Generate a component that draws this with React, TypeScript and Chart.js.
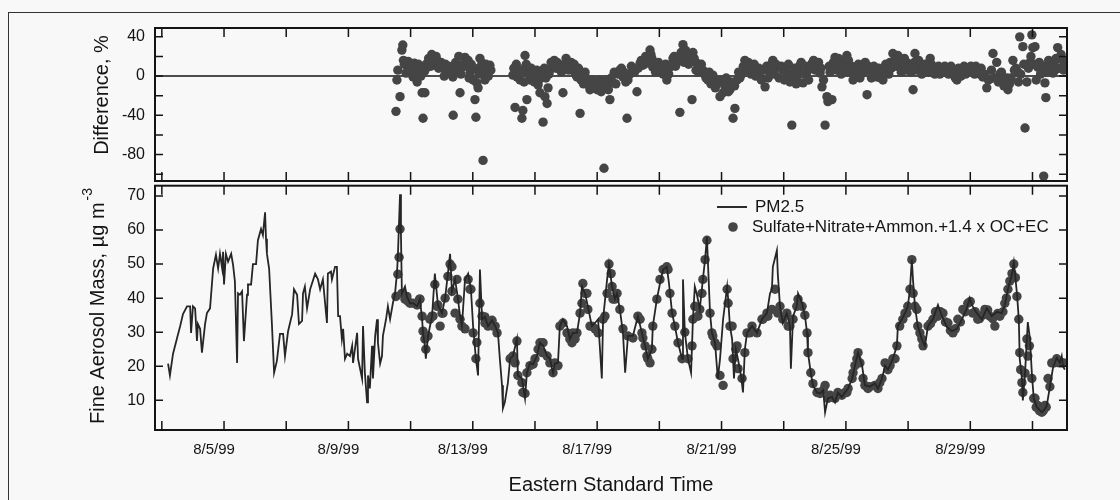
import React, { useEffect, useRef } from 'react';
import { Chart, registerables } from 'chart.js';

Chart.register(...registerables);

const FONT = "'Liberation Sans', Arial, Helvetica, sans-serif";
const INK = '#141414';
const MARK = '#454545';

// x axis: day of August 1999 (fractional)
const xTickDays = [3, 5, 7, 9, 11, 13, 15, 17, 19, 21, 23, 25, 27, 29, 31];
const xLabelDays = [5, 9, 13, 17, 21, 25, 29];
const diffTicks = [-100, -80, -60, -40, -20, 0, 20, 40];
const diffLabels = [-80, -40, 0, 40];
const massTicks = [10, 20, 30, 40, 50, 60, 70];

const xTitle = 'Eastern Standard Time';
const diffTitle = 'Difference, %';
const massTitle = 'Fine Aerosol Mass, µg m';
const massTitleSup = '-3';
const seriesNames = ['PM2.5', 'Sulfate+Nitrate+Ammon.+1.4 x OC+EC'];

// [day, µg/m3]
const pm25Series: [number, number][] = [
  [3.20,20.8],[3.26,17.3],[3.36,23.7],[3.49,28.3],[3.59,31.8],[3.68,35.3],[3.81,37.6],[3.91,37.6],[3.94,29.8],[4.00,37.6],
  [4.07,37.0],[4.13,27.4],[4.16,32.4],[4.23,31.0],[4.29,24.0],[4.39,32.4],[4.45,35.6],[4.55,37.0],[4.61,44.0],[4.65,48.7],
  [4.74,52.7],[4.81,48.7],[4.87,53.0],[4.94,48.7],[4.97,53.6],[5.00,44.0],[5.06,53.0],[5.13,50.7],[5.23,53.0],[5.29,49.8],
  [5.35,44.9],[5.42,21.0],[5.45,41.4],[5.51,41.0],[5.58,42.0],[5.64,27.4],[5.74,41.0],[5.77,44.0],[5.87,44.0],[5.93,50.0],
  [6.03,50.0],[6.09,57.0],[6.19,60.3],[6.25,58.5],[6.32,65.2],[6.35,57.4],[6.38,53.0],[6.45,48.7],[6.54,32.4],[6.61,18.1],
  [6.70,21.6],[6.80,29.5],[6.90,29.5],[6.96,23.0],[7.06,30.3],[7.19,35.3],[7.25,42.6],[7.35,41.0],[7.41,32.4],[7.51,33.3],
  [7.54,41.4],[7.60,43.4],[7.67,37.0],[7.77,42.6],[7.93,47.2],[8.02,45.5],[8.09,42.6],[8.18,45.5],[8.25,38.5],[8.31,32.7],
  [8.34,47.2],[8.44,47.8],[8.47,45.5],[8.57,49.2],[8.63,49.2],[8.67,34.7],[8.73,34.7],[8.79,28.0],[8.83,31.0],[8.89,22.2],
  [8.96,23.7],[9.05,23.0],[9.12,26.0],[9.15,21.0],[9.28,29.8],[9.31,22.2],[9.44,16.4],[9.47,31.8],[9.53,18.1],[9.60,9.4],
  [9.63,17.3],[9.69,13.5],[9.76,26.0],[9.79,16.4],[9.86,28.9],[9.92,33.8],[9.95,26.9],[10.02,20.8],[10.08,23.0],[10.11,28.9],
  [10.21,33.8],[10.27,37.6],[10.34,33.8],[10.43,38.5],[10.50,41.4],[10.56,47.2],[10.59,52.0],[10.66,70.5],[10.69,58.8],[10.72,41.4],
  [10.82,43.4],[10.88,40.5],[10.98,38.5],[11.08,38.5],[11.21,37.6],[11.30,39.7],[11.37,33.8],[11.40,29.8],[11.46,26.0],[11.49,22.2],
  [11.56,28.9],[11.69,34.7],[11.78,47.2],[11.88,38.0],[12.01,35.6],[12.11,40.0],[12.20,47.2],[12.27,53.0],[12.33,42.0],[12.43,45.5],
  [12.52,40.0],[12.59,34.7],[12.65,31.8],[12.75,45.5],[12.85,47.2],[12.94,42.6],[13.01,31.8],[13.10,22.2],[13.17,17.3],[13.23,48.4],
  [13.30,33.8],[13.39,34.5],[13.49,31.8],[13.62,33.5],[13.72,31.8],[13.81,29.8],[13.87,22.2],[13.94,14.4],[13.97,7.7],[14.03,9.4],
  [14.13,15.2],[14.20,22.2],[14.29,23.0],[14.42,28.0],[14.45,17.3],[14.58,16.4],[14.68,10.6],[14.74,18.1],[14.84,21.0],[14.94,20.6],
  [15.06,23.0],[15.16,26.9],[15.26,26.0],[15.39,23.0],[15.48,22.2],[15.58,18.1],[15.64,20.8],[15.74,21.0],[15.80,31.8],[15.90,33.8],
  [16.03,31.8],[16.12,28.0],[16.22,29.8],[16.35,29.8],[16.45,35.6],[16.51,43.4],[16.61,41.4],[16.70,37.6],[16.83,31.8],[16.93,32.7],
  [17.03,33.8],[17.15,16.4],[17.19,33.8],[17.32,45.5],[17.38,50.0],[17.48,43.4],[17.57,39.7],[17.64,41.4],[17.73,36.7],[17.83,29.8],
  [17.90,18.1],[17.99,28.9],[18.15,28.9],[18.31,34.7],[18.44,29.8],[18.54,26.0],[18.63,22.2],[18.76,25.0],[18.79,31.8],[18.92,39.7],
  [19.02,44.3],[19.12,48.4],[19.24,49.2],[19.31,44.3],[19.41,35.6],[19.50,31.8],[19.60,26.9],[19.73,22.2],[19.76,45.5],[19.82,30.0],
  [19.92,22.2],[20.02,18.1],[20.08,33.8],[20.14,43.4],[20.21,41.0],[20.30,36.7],[20.40,45.5],[20.47,51.3],[20.53,57.9],[20.56,51.0],
  [20.63,35.6],[20.69,29.8],[20.79,26.9],[20.88,16.4],[20.95,22.0],[21.05,33.8],[21.18,43.4],[21.21,40.0],[21.27,31.8],[21.34,28.0],
  [21.40,16.4],[21.46,25.0],[21.53,22.0],[21.63,17.0],[21.69,12.3],[21.75,25.0],[21.82,29.8],[21.98,31.8],[22.14,29.8],[22.30,33.8],
  [22.46,35.6],[22.56,41.4],[22.62,42.6],[22.65,49.2],[22.78,54.0],[22.81,47.0],[22.88,37.6],[22.97,32.7],[23.10,35.6],[23.20,31.8],
  [23.23,19.3],[23.30,34.7],[23.42,37.6],[23.46,41.4],[23.59,38.5],[23.68,35.0],[23.75,29.8],[23.78,24.0],[23.87,18.1],[23.94,14.4],
  [24.07,12.3],[24.17,12.0],[24.27,13.0],[24.33,6.5],[24.42,10.6],[24.55,11.0],[24.65,9.4],[24.74,12.3],[24.87,11.0],[24.97,12.3],
  [25.07,13.5],[25.20,16.4],[25.29,20.2],[25.39,24.0],[25.52,20.2],[25.61,14.4],[25.77,14.0],[25.93,15.0],[26.03,13.5],[26.16,16.4],
  [26.26,20.2],[26.35,19.0],[26.51,22.2],[26.64,26.0],[26.67,31.8],[26.80,33.8],[26.90,35.6],[26.99,37.6],[27.06,42.6],[27.12,51.3],
  [27.16,45.0],[27.22,37.6],[27.31,31.8],[27.44,28.0],[27.54,26.0],[27.64,31.8],[27.80,33.8],[27.96,38.0],[28.09,34.7],[28.25,31.5],
  [28.41,30.3],[28.57,31.0],[28.73,33.8],[28.89,37.0],[28.98,40.0],[29.05,38.0],[29.21,35.6],[29.37,33.8],[29.53,37.0],[29.69,34.7],
  [29.85,36.0],[30.01,35.6],[30.11,38.0],[30.21,42.6],[30.34,47.0],[30.40,50.5],[30.50,41.4],[30.56,33.8],[30.59,22.2],[30.66,16.4],
  [30.69,10.0],[30.76,18.0],[30.85,33.0],[30.92,28.0],[30.98,17.8],[31.04,10.6],[31.14,8.0],[31.30,6.5],[31.40,7.5],[31.46,8.5],
  [31.56,14.0],[31.66,19.6],[31.78,22.5],[31.88,21.0],[31.94,23.0],[31.98,20.0],[32.04,19.0],
];

// [day, µg/m3] reconstructed mass (dots)
const reconstructedSeries: [number, number][] = [
  [10.53,40.5],[10.59,47.0],[10.63,52.0],[10.66,60.3],[10.82,39.7],[10.92,39.0],[11.08,38.5],[11.21,38.0],[11.29,39.7],[11.37,34.7],
  [11.40,30.3],[11.46,28.0],[11.49,25.0],[11.62,33.8],[11.72,34.7],[11.85,37.6],[11.95,31.8],[12.04,35.6],[12.20,46.4],[12.33,49.2],
  [12.43,35.6],[12.49,45.5],[12.52,39.7],[12.59,33.8],[12.75,31.0],[12.85,45.5],[12.91,42.6],[13.01,29.8],[13.13,27.0],[13.23,38.5],
  [13.30,34.7],[13.39,32.7],[13.49,31.8],[13.65,31.8],[13.78,29.8],[14.36,21.0],[14.42,27.4],[14.45,17.3],[14.58,15.2],[14.61,12.3],
  [14.74,18.1],[14.84,20.2],[15.00,22.2],[15.10,25.0],[15.23,24.0],[15.26,26.9],[15.39,23.0],[15.48,21.0],[15.64,21.0],[15.74,20.2],
  [15.90,32.7],[16.03,29.8],[16.19,26.9],[16.29,28.0],[16.51,38.5],[16.54,44.3],[16.67,41.4],[16.70,36.7],[16.77,31.8],[16.93,31.0],
  [17.03,29.8],[17.25,34.7],[17.32,41.4],[17.38,50.0],[17.45,47.2],[17.48,43.4],[17.51,39.7],[17.64,41.4],[17.83,31.0],[17.99,28.9],
  [18.15,28.3],[18.38,33.8],[18.47,28.3],[18.60,23.0],[18.70,21.0],[18.79,31.8],[18.92,39.7],[19.02,45.5],[19.12,48.4],[19.28,48.4],
  [19.34,41.4],[19.41,35.6],[19.50,31.8],[19.60,26.9],[19.73,22.2],[19.92,22.2],[20.05,26.0],[20.14,37.6],[20.24,34.7],[20.37,41.4],
  [20.47,51.3],[20.53,57.0],[20.63,35.6],[20.72,28.9],[20.85,26.0],[20.95,17.3],[21.05,14.4],[21.18,42.6],[21.21,38.5],[21.34,31.8],
  [21.37,22.2],[21.50,26.0],[21.53,19.3],[21.66,16.4],[21.75,24.0],[21.91,29.8],[22.14,29.8],[22.33,33.8],[22.49,34.7],[22.62,36.7],
  [22.72,42.6],[22.81,35.6],[22.97,33.8],[23.14,31.8],[23.30,33.8],[23.46,39.7],[23.59,37.6],[23.75,29.8],[23.78,24.0],[23.87,18.1],
  [23.94,14.9],[24.10,12.3],[24.33,14.4],[24.49,11.5],[24.65,10.6],[24.87,11.5],[25.03,12.3],[25.23,18.1],[25.35,22.2],[25.45,21.0],
  [25.55,16.4],[25.71,13.5],[25.93,14.4],[26.09,15.2],[26.26,21.0],[26.42,20.2],[26.58,22.2],[26.73,31.8],[26.83,33.8],[26.96,35.6],
  [27.12,51.3],[27.16,41.4],[27.28,36.7],[27.38,29.8],[27.48,26.0],[27.64,31.8],[27.80,33.8],[27.96,34.7],[28.12,35.6],[28.28,32.7],
  [28.44,29.8],[28.60,33.8],[28.76,36.7],[28.92,38.5],[29.08,35.6],[29.24,33.8],[29.47,36.7],[29.63,34.7],[29.79,31.8],[29.95,34.7],
  [30.11,38.5],[30.21,42.6],[30.34,47.2],[30.40,50.0],[30.50,40.5],[30.59,24.0],[30.66,15.2],[30.69,12.3],[30.82,28.0],[30.85,23.0],
  [30.98,16.4],[31.08,10.6],[31.17,8.5],[31.30,6.5],[31.40,8.5],[31.50,16.4],[31.62,21.0],[31.78,22.2],[31.94,21.0],
  [10.72,41.4],[10.88,40.5],[10.98,38.5],[11.30,39.7],[11.56,28.9],[11.69,34.7],[11.78,44.0],[11.88,38.0],[12.01,35.6],[12.11,40.0],
  [12.27,50.0],[12.33,42.0],[12.65,31.8],[12.94,42.6],[13.10,22.2],[13.39,34.5],[13.62,33.5],[13.72,31.8],[14.20,22.2],[14.29,23.0],
  [14.68,12.0],[14.94,20.6],[15.16,26.9],[15.58,18.1],[15.80,31.8],[16.12,28.0],[16.22,29.8],[16.35,29.8],[16.45,35.6],[16.61,41.4],
  [16.83,31.8],[17.19,33.8],[17.57,39.7],[17.73,36.7],[18.31,34.7],[18.44,29.8],[18.54,26.0],[18.63,22.2],[18.76,25.0],[19.24,49.2],
  [19.82,30.0],[20.08,33.8],[20.30,36.7],[20.40,45.5],[20.69,29.8],[20.79,26.9],[21.27,31.8],[21.46,25.0],[21.82,29.8],[21.98,31.8],
  [22.30,33.8],[22.46,35.6],[22.88,37.6],[23.10,35.6],[23.20,31.8],[23.42,37.6],[23.68,35.0],[24.07,12.3],[24.17,12.0],[24.27,13.0],
  [24.42,10.6],[24.55,11.0],[24.74,12.3],[24.97,12.3],[25.07,13.5],[25.20,16.4],[25.29,20.2],[25.39,24.0],[25.61,14.4],[25.77,14.0],
  [26.03,13.5],[26.16,16.4],[26.35,19.0],[26.51,22.2],[26.64,26.0],[26.90,35.6],[26.99,37.6],[27.06,42.6],[27.22,37.6],[27.31,31.8],
  [27.44,28.0],[27.72,32.5],[27.88,36.0],[28.04,36.0],[28.20,33.0],[28.36,30.5],[28.52,31.0],[28.68,33.0],[28.84,36.0],[29.00,39.0],
  [29.16,36.0],[29.30,34.0],[29.40,35.0],[29.56,36.5],[29.72,34.0],[29.88,35.5],[30.05,36.0],[30.16,40.0],[30.27,45.0],[30.45,46.0],
  [30.56,33.8],[30.62,19.0],[30.76,18.0],[30.90,26.0],[31.04,10.6],[31.12,8.0],[31.22,7.0],[31.35,7.0],[31.44,8.0],[31.56,14.0],
  [31.70,21.0],[31.86,21.0],[32.00,21.0],
];

// [day, %] difference
const differenceSeries: [number, number][] = [
  [10.53,-36],[10.56,-4],[10.59,6],[10.66,-21],[10.72,26.5],[10.75,31.6],[10.77,16],[10.88,11],[10.98,6],[11.08,-1],
  [11.21,-6],[11.30,6],[11.37,-17],[11.40,-43],[11.46,-17],[11.53,9],[11.62,14],[11.72,19],[11.85,16],[11.95,11],
  [12.04,8],[12.17,4],[12.27,9],[12.36,-1],[12.37,-40],[12.49,6],[12.59,-17],[12.65,9],[12.75,19],[12.85,16],
  [12.91,3],[13.01,-4],[13.07,-24],[13.10,-42],[13.13,-7],[13.17,-12],[13.23,18],[13.30,13],[13.33,-86],[13.39,-4],
  [13.46,4],[13.55,11],[14.29,1],[14.36,-32],[14.42,-1],[14.52,-4],[14.58,-43],[14.61,-35],[14.68,21],[14.69,9],
  [14.74,-24],[14.75,3],[14.84,-4],[14.94,-2],[15.06,6],[15.10,-9],[15.16,-17],[15.26,-47],[15.32,-21],[15.39,-28],
  [15.42,-12],[15.48,6],[15.58,11],[15.71,14],[15.80,9],[15.90,-17],[16.03,11],[16.12,8],[16.22,9],[16.35,-1],
  [16.45,-38],[16.51,3],[16.61,4],[16.70,-4],[16.77,-14],[16.87,-7],[17.00,-14],[17.09,-9],[17.22,-94],[17.32,-11],
  [17.41,-24],[17.51,-7],[17.64,3],[17.73,6],[17.83,-1],[17.96,-43],[17.99,-4],[18.15,6],[18.28,-16],[18.38,13],
  [18.47,11],[18.60,18],[18.70,26.5],[18.76,18],[18.79,9],[18.92,11],[19.02,6],[19.12,2],[19.24,-4],[19.34,9],
  [19.44,18],[19.57,14],[19.66,-37],[19.73,21],[19.76,32],[19.89,20],[19.98,18],[20.05,-24],[20.08,24],[20.21,13],
  [20.30,9],[20.40,6],[20.56,-4],[20.72,1],[20.85,-7],[20.95,-21],[21.05,-17],[21.18,-8],[21.27,-14],[21.37,-43],
  [21.43,-33],[21.59,-2],[21.75,16],[21.82,11],[21.91,8],[22.01,6],[22.14,3],[22.24,-1],[22.40,-11],[22.56,5],
  [22.65,16],[22.78,9],[22.97,6],[23.10,0],[23.20,-6],[23.26,-50],[23.42,-1],[23.52,11],[23.62,-7],[23.75,4],
  [23.91,13],[24.07,11],[24.17,3],[24.23,-11],[24.33,-50],[24.39,-21],[24.42,-26],[24.49,4],[24.55,-24],[24.65,19],
  [24.81,9],[24.90,15],[25.03,21],[25.13,4],[25.23,-4],[25.35,6],[25.52,11],[25.68,-19],[25.77,6],[25.87,2],
  [26.00,-1],[26.09,3],[26.19,-4],[26.32,8],[26.42,14],[26.51,23],[26.67,21],[26.83,9],[26.99,13],[27.16,-14],
  [27.22,23],[27.38,11],[27.48,6],[27.61,9],[27.71,18],[27.80,8],[27.93,6],[28.02,2],[28.12,4],[28.25,7],
  [28.34,6],[28.44,2],[28.57,-4],[28.67,3],[28.76,6],[28.89,4],[28.98,9],[29.08,5],[29.21,6],[29.31,2],
  [29.40,-1],[29.53,-12],[29.63,-3],[29.73,23],[29.85,14],[29.95,2],[30.05,-4],[30.15,-6],[30.21,-14],[30.31,-2],
  [30.37,16],[30.47,8],[30.53,4],[30.59,40],[30.69,30],[30.76,-53],[30.82,-6],[30.92,14],[30.98,42],[31.01,29],
  [31.08,30],[31.17,9],[31.30,4],[31.36,-102],[31.40,-7],[31.43,-22],[31.56,9],[31.66,3],[31.72,6],[31.81,29],
  [31.88,18],[31.98,16],[32.04,12],
  [10.80,12],[10.85,3],[10.92,15],[11.00,10],[11.05,2],[11.12,13],[11.17,4],[11.25,12],[11.33,0],[11.45,5],
  [11.50,12],[11.58,18],[11.65,10],[11.68,22],[11.78,12],[11.82,20],[11.90,8],[11.98,14],[12.08,0],[12.12,12],
  [12.22,10],[12.30,2],[12.40,8],[12.45,14],[12.55,20],[12.62,2],[12.70,12],[12.80,10],[12.88,-2],[12.95,12],
  [13.05,8],[13.20,2],[13.27,10],[13.36,6],[13.42,12],[13.50,0],[13.58,6],
  [14.32,8],[14.40,12],[14.48,3],[14.55,6],[14.65,-6],[14.72,12],[14.80,2],[14.88,8],[14.98,-6],[15.02,4],
  [15.13,-4],[15.20,4],[15.30,8],[15.35,-2],[15.45,2],[15.52,14],[15.62,16],[15.68,8],[15.76,12],[15.85,4],
  [15.95,12],[16.00,18],[16.08,6],[16.16,14],[16.26,12],[16.30,2],[16.40,8],[16.48,-4],[16.56,-8],[16.65,-2],
  [16.74,-10],[16.82,-4],[16.90,-12],[16.96,-6],[17.05,-4],[17.13,-16],[17.18,-6],[17.28,-4],[17.36,-14],[17.45,-2],
  [17.55,4],[17.60,-8],[17.68,2],[17.78,8],[17.86,4],[17.92,-6],[18.05,2],[18.10,10],[18.20,4],[18.32,8],
  [18.42,16],[18.52,12],[18.56,20],[18.65,14],[18.73,22],[18.84,12],[18.88,4],[18.97,14],[19.06,10],[19.16,4],
  [19.20,12],[19.30,2],[19.38,12],[19.48,20],[19.52,10],[19.62,16],[19.70,24],[19.80,14],[19.85,26],[19.94,12],
  [20.00,20],[20.12,18],[20.18,6],[20.26,4],[20.35,12],[20.45,2],[20.50,-2],[20.60,4],[20.66,-8],[20.75,-2],
  [20.80,-12],[20.90,-6],[21.00,-4],[21.10,-10],[21.15,-2],[21.22,-16],[21.30,-6],[21.42,-10],[21.50,-4],[21.55,4],
  [21.65,2],[21.70,10],[21.78,4],[21.86,14],[21.95,2],[22.05,12],[22.10,0],[22.20,8],[22.28,-4],[22.35,6],
  [22.45,10],[22.50,-2],[22.60,12],[22.70,2],[22.75,12],[22.85,-2],[22.92,10],[23.02,-4],[23.06,8],[23.15,12],
  [23.25,2],[23.35,8],[23.40,-8],[23.48,4],[23.56,14],[23.66,2],[23.70,10],[23.80,-4],[23.85,8],[23.96,16],
  [24.02,6],[24.12,14],[24.20,8],[24.28,-4],[24.46,10],[24.60,14],[24.70,6],[24.76,18],[24.85,2],[24.95,12],
  [25.00,4],[25.08,16],[25.18,10],[25.28,2],[25.40,12],[25.45,-2],[25.58,4],[25.62,14],[25.72,10],[25.82,-2],
  [25.90,10],[25.96,4],[26.05,8],[26.12,-2],[26.24,6],[26.28,12],[26.38,2],[26.46,8],[26.56,16],[26.62,10],
  [26.72,14],[26.78,4],[26.88,18],[26.94,6],[27.03,10],[27.10,4],[27.20,14],[27.28,6],[27.34,16],[27.44,2],
  [27.55,12],[27.66,4],[27.75,12],[27.86,2],[27.98,10],[28.06,6],[28.18,10],[28.30,2],[28.38,10],[28.48,6],
  [28.52,-2],[28.62,8],[28.70,0],[28.80,10],[28.85,2],[28.94,4],[29.02,10],[29.14,2],[29.18,10],[29.26,4],
  [29.35,8],[29.45,2],[29.58,-4],[29.68,6],[29.78,-2],[29.90,-6],[30.00,4],[30.08,-10],[30.18,-2],[30.26,-8],
  [30.42,6],[30.55,-6],[30.62,2],[30.72,12],[30.87,8],[30.95,20],[31.05,12],[31.12,-4],[31.22,14],[31.26,2],
  [31.34,10],[31.48,4],[31.52,16],[31.60,12],[31.70,14],[31.76,18],[31.85,8],[31.92,22],[32.00,6],
];

const toPoints = (s: [number, number][]) => s.map(([x, y]) => ({ x, y }));

const framePlugin = {
  id: 'frame',
  beforeDatasetsDraw(chart: any, _a: any, opts: any) {
    if (!opts || !opts.zeroLine) return;
    const { ctx, chartArea: a, scales } = chart;
    const py = scales.y.getPixelForValue(0);
    ctx.save();
    ctx.strokeStyle = INK;
    ctx.lineWidth = 1.6;
    ctx.beginPath();
    ctx.moveTo(a.left, py);
    ctx.lineTo(a.right, py);
    ctx.stroke();
    ctx.restore();
  },
  afterDatasetsDraw(chart: any) {
    const { ctx, chartArea: a, scales } = chart;
    ctx.save();
    ctx.strokeStyle = INK;
    ctx.lineWidth = 1.5;
    ctx.beginPath();
    for (const t of scales.x.ticks) {
      const px = scales.x.getPixelForValue(t.value);
      ctx.moveTo(px, a.bottom);
      ctx.lineTo(px, a.bottom - 9);
      ctx.moveTo(px, a.top);
      ctx.lineTo(px, a.top + 9);
    }
    for (const t of scales.y.ticks) {
      const py = scales.y.getPixelForValue(t.value);
      ctx.moveTo(a.left, py);
      ctx.lineTo(a.left + 8, py);
      ctx.moveTo(a.right, py);
      ctx.lineTo(a.right - 8, py);
    }
    ctx.stroke();
    ctx.lineWidth = 2;
    ctx.strokeRect(a.left, a.top, a.right - a.left, a.bottom - a.top);
    ctx.restore();
  },
};

const textPlugin = {
  id: 'texts',
  afterDraw(chart: any, _a: any, opts: any) {
    const ctx = chart.ctx;
    if (opts && opts.yTitle) {
      const t = opts.yTitle;
      ctx.save();
      ctx.fillStyle = INK;
      ctx.translate(t.x, t.y);
      ctx.rotate(-Math.PI / 2);
      ctx.textBaseline = 'middle';
      ctx.textAlign = 'left';
      ctx.font = `20px ${FONT}`;
      const w1 = ctx.measureText(t.text).width;
      let w2 = 0;
      if (t.sup) {
        ctx.font = `14px ${FONT}`;
        w2 = ctx.measureText(t.sup).width + 2;
      }
      const start = -(w1 + w2) / 2;
      ctx.font = `20px ${FONT}`;
      ctx.fillText(t.text, start, 0);
      if (t.sup) {
        ctx.font = `14px ${FONT}`;
        ctx.fillText(t.sup, start + w1 + 2, -10);
      }
      ctx.restore();
    }
    if (opts && opts.legend) {
      const l = opts.legend;
      ctx.save();
      ctx.strokeStyle = INK;
      ctx.lineWidth = 1.8;
      ctx.beginPath();
      ctx.moveTo(l.x, l.y1);
      ctx.lineTo(l.x + 30, l.y1);
      ctx.stroke();
      ctx.fillStyle = MARK;
      ctx.beginPath();
      ctx.arc(l.x + 16, l.y2, 4.8, 0, Math.PI * 2);
      ctx.fill();
      ctx.fillStyle = INK;
      ctx.font = `17px ${FONT}`;
      ctx.textBaseline = 'middle';
      ctx.textAlign = 'left';
      ctx.fillText(seriesNames[0], l.x + 38, l.y1);
      ctx.fillText(seriesNames[1], l.x + 35, l.y2);
      ctx.restore();
    }
  },
};

const yFit = (s: any) => {
  s.width = 155;
  s.paddingTop = 0;
  s.paddingBottom = 0;
};

const xScaleBase = (height: number) => ({
  type: 'linear' as const,
  min: 2.78,
  max: 32.11,
  afterBuildTicks: (s: any) => {
    s.ticks = xTickDays.map((v) => ({ value: v }));
  },
  afterFit: (s: any) => {
    s.height = height;
    s.paddingLeft = 0;
    s.paddingRight = 0;
  },
  grid: { display: false, drawTicks: false },
  border: { display: false },
});

export default function App() {
  const topRef = useRef<HTMLCanvasElement>(null);
  const botRef = useRef<HTMLCanvasElement>(null);

  useEffect(() => {
    const top = new Chart(topRef.current as HTMLCanvasElement, {
      type: 'scatter',
      data: {
        datasets: [
          {
            label: 'Difference',
            data: toPoints(differenceSeries),
            pointRadius: 4.7,
            pointBackgroundColor: MARK,
            pointBorderWidth: 0,
            showLine: false,
          } as any,
        ],
      },
      options: {
        animation: false,
        responsive: false,
        devicePixelRatio: 1,
        layout: { padding: { top: 28, right: 53, left: 0, bottom: 0 } },
        plugins: {
          legend: { display: false },
          tooltip: { enabled: false },
          frame: { zeroLine: true },
          texts: { yTitle: { text: diffTitle, x: 102, y: 95 } },
        } as any,
        scales: {
          x: { ...xScaleBase(5), ticks: { display: false } },
          y: {
            type: 'linear',
            min: -107,
            max: 49,
            afterBuildTicks: (s: any) => {
              s.ticks = diffTicks.map((v) => ({ value: v }));
            },
            afterFit: yFit,
            grid: { display: false, drawTicks: false },
            border: { display: false },
            ticks: {
              autoSkip: false,
              padding: 10,
              color: INK,
              font: { family: FONT, size: 16 },
              callback: (v: any) => (diffLabels.includes(v) ? String(v) : ''),
            },
          },
        } as any,
      },
      plugins: [framePlugin, textPlugin],
    });

    const bot = new Chart(botRef.current as HTMLCanvasElement, {
      type: 'scatter',
      data: {
        datasets: [
          {
            label: seriesNames[0],
            data: toPoints(pm25Series),
            showLine: true,
            borderColor: '#262626',
            borderWidth: 1.8,
            pointRadius: 0,
            tension: 0,
            order: 0,
          } as any,
          {
            label: seriesNames[1],
            data: toPoints(reconstructedSeries),
            showLine: false,
            pointRadius: 4.7,
            pointBackgroundColor: MARK,
            pointBorderWidth: 0,
            order: 1,
          } as any,
        ],
      },
      options: {
        animation: false,
        responsive: false,
        devicePixelRatio: 1,
        layout: { padding: { top: 2, right: 53, left: 0, bottom: 0 } },
        plugins: {
          legend: { display: false },
          tooltip: { enabled: false },
          frame: { zeroLine: false },
          texts: {
            yTitle: { text: massTitle, sup: massTitleSup, x: 98, y: 125 },
            legend: { x: 717, y1: 26, y2: 46 },
          },
        } as any,
        scales: {
          x: {
            ...xScaleBase(70),
            ticks: {
              autoSkip: false,
              maxRotation: 0,
              padding: 11,
              labelOffset: -10,
              color: INK,
              font: { family: FONT, size: 15 },
              callback: (v: any) => (xLabelDays.includes(v) ? `8/${v}/99` : ''),
            },
            title: {
              display: true,
              text: xTitle,
              color: INK,
              font: { family: FONT, size: 20 },
              padding: { top: 0, bottom: 3 },
            },
          },
          y: {
            type: 'linear',
            min: 1.3,
            max: 73,
            afterBuildTicks: (s: any) => {
              s.ticks = massTicks.map((v) => ({ value: v }));
            },
            afterFit: yFit,
            grid: { display: false, drawTicks: false },
            border: { display: false },
            ticks: {
              autoSkip: false,
              padding: 10,
              color: INK,
              font: { family: FONT, size: 16 },
            },
          },
        } as any,
      },
      plugins: [framePlugin, textPlugin],
    });

    return () => {
      top.destroy();
      bot.destroy();
    };
  }, []);

  return (
    <div
      style={{
        position: 'absolute',
        left: 0,
        top: 0,
        width: 1120,
        height: 500,
        overflow: 'hidden',
        background: '#f8f8f8',
      }}
    >
      <div
        style={{
          position: 'absolute',
          left: 8,
          top: 12,
          width: 1130,
          height: 500,
          borderTop: '1.5px solid #333',
          borderLeft: '1.5px solid #333',
        }}
      />
      <canvas
        ref={topRef}
        width={1120}
        height={186}
        style={{ position: 'absolute', left: 0, top: 0 }}
      />
      <canvas
        ref={botRef}
        width={1120}
        height={319}
        style={{ position: 'absolute', left: 0, top: 181 }}
      />
    </div>
  );
}
